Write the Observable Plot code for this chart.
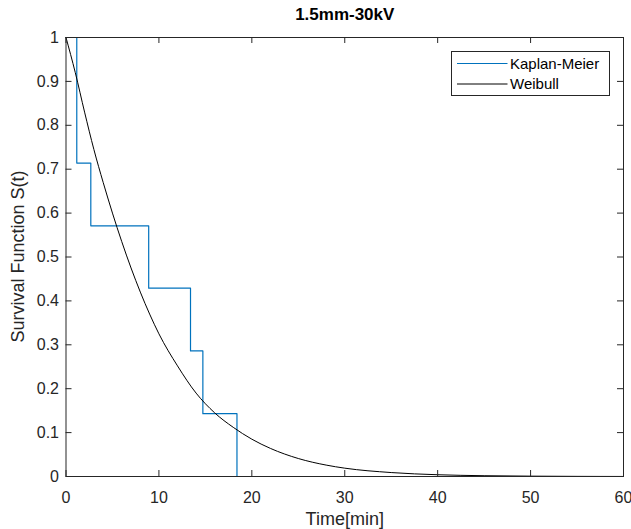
<!DOCTYPE html>
<html>
<head>
<meta charset="utf-8">
<script src="https://cdn.jsdelivr.net/npm/d3@7"></script>
<script src="https://cdn.jsdelivr.net/npm/@observablehq/plot@0.6"></script>
<style>
  html, body { margin: 0; padding: 0; background: #fff; }
  svg { font-family: "Liberation Sans", Arial, sans-serif; }
</style>
</head>
<body>
<div id="chart"></div>
<script>
const title = "1.5mm-30kV";
const xLabel = "Time[min]";
const yLabel = "Survival Function S(t)";
const seriesNames = ["Kaplan-Meier", "Weibull"];
const seriesColors = ["#0072BD", "#000000"];

// Kaplan-Meier step points
const kmTime = [0, 1.16, 2.67, 8.9, 13.4, 14.73, 18.4];
const kmSurv = [1, 0.714, 0.571, 0.429, 0.286, 0.143, 0];

// Weibull curve
const wbTime = [0, 1, 2, 3, 4, 5, 6, 7, 8, 9, 10, 12, 14, 16, 18, 20, 22, 25, 28, 30, 35, 40, 45, 50, 55, 60];
const wbSurv = [1.0, 0.92, 0.83, 0.745, 0.67, 0.60, 0.535, 0.475, 0.42, 0.37, 0.325, 0.252, 0.19, 0.145, 0.112, 0.085, 0.064, 0.041, 0.026, 0.019, 0.009, 0.004, 0.0018, 0.0008, 0.0003, 0.0001];

const xTicks = [0, 10, 20, 30, 40, 50, 60];
const yTicks = [0, 0.1, 0.2, 0.3, 0.4, 0.5, 0.6, 0.7, 0.8, 0.9, 1];

const km = kmTime.map((t, i) => ({t, s: kmSurv[i]}));
const wb = wbTime.map((t, i) => ({t, s: wbSurv[i]}));

const W = 631, H = 529;
const mL = 65.5, mR = 8, mT = 37, mB = 53;
const innerW = W - mL - mR, innerH = H - mT - mB;
const tk = 6;
const axisColor = "#262626";
const FONT = '"Liberation Sans", Arial, sans-serif';

const chart = Plot.plot({
  width: W, height: H,
  marginLeft: mL, marginRight: mR, marginTop: mT, marginBottom: mB,
  style: {fontFamily: FONT, fontSize: "16px", background: "#fff"},
  x: {domain: [0, 60], ticks: xTicks},
  y: {domain: [0, 1], ticks: yTicks},
  marks: [
    Plot.line(km, {x: "t", y: "s", curve: "step-after", stroke: seriesColors[0], strokeWidth: 1.2}),
    Plot.line(wb, {x: "t", y: "s", curve: "monotone-x", stroke: seriesColors[1], strokeWidth: 1}),
    Plot.frame({stroke: axisColor, strokeWidth: 1}),
    Plot.tickX(xTicks, {x: d => d, insetTop: innerH - tk, stroke: axisColor}),
    Plot.tickX(xTicks, {x: d => d, insetBottom: innerH - tk, stroke: axisColor}),
    Plot.tickY(yTicks, {y: d => d, insetRight: innerW - tk, stroke: axisColor}),
    Plot.tickY(yTicks, {y: d => d, insetLeft: innerW - tk, stroke: axisColor}),
    Plot.axisX(xTicks, {tickSize: 0, tickPadding: 15, label: null, fill: axisColor, fontSize: 16}),
    Plot.axisY(yTicks, {tickSize: 0, tickPadding: 7, label: null, fill: axisColor, fontSize: 16, tickFormat: d => String(d)}),
    Plot.text([title], {frameAnchor: "top", textAnchor: "middle", lineAnchor: "middle", dy: -23, fontWeight: "bold", fontSize: 17, fill: "#000"}),
    Plot.text([xLabel], {frameAnchor: "bottom", textAnchor: "middle", lineAnchor: "middle", dy: 43, fontSize: 18, fill: axisColor})
  ]
});

document.getElementById("chart").appendChild(chart);

const svg = d3.select(chart);

// Y axis label
svg.append("text")
  .attr("transform", `translate(18,${mT + innerH / 2}) rotate(-90)`)
  .attr("text-anchor", "middle")
  .attr("dy", "0.35em")
  .attr("font-family", FONT)
  .attr("font-size", 18)
  .attr("fill", axisColor)
  .text(yLabel);

// Legend
const lg = svg.append("g").attr("font-family", FONT).attr("font-size", 15).attr("text-anchor", "start");
lg.append("rect").attr("x", 451.5).attr("y", 51.5).attr("width", 158).attr("height", 44)
  .attr("fill", "#fff").attr("stroke", axisColor).attr("stroke-width", 1);
seriesNames.forEach((name, i) => {
  const y = 63.5 + i * 20.5;
  lg.append("line").attr("x1", 457).attr("x2", 507.5).attr("y1", y).attr("y2", y)
    .attr("stroke", seriesColors[i]).attr("stroke-width", 1);
  lg.append("text").attr("x", 510).attr("y", y).attr("dy", "0.35em").attr("fill", "#000").text(name);
});
</script>
</body>
</html>
